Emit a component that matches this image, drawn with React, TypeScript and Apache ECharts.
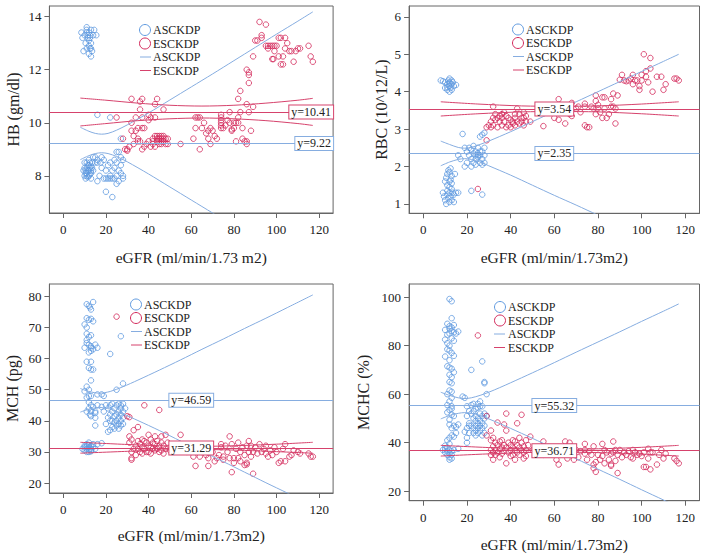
import React, { useEffect, useRef } from "react";
import * as echarts from "echarts";

const FONT = "'Liberation Serif', 'Times New Roman', serif";
const BLUE = "#5f9ae0";
const BLUE_LINE = "#86ade0";
const RED = "#d3285a";
const RED_LINE = "#d6426c";

const xTicks = [0, 20, 40, 60, 80, 100, 120];
const legendNames = ["ASCKDP", "ESCKDP"];
const xNames = ["eGFR (ml/min/1.73 m2)", "eGFR (ml/min/1.73m2)", "eGFR (ml/min/1.73m2)", "eGFR (ml/min/1.73m2)"];
const yNames = ["HB (gm/dl)", "RBC (10^12/L)", "MCH (pg)", "MCHC (%)"];

// ---------- Panel 1: HB ----------
const hbTicks = [8, 10, 12, 14];
const hbMeans = [9.22, 10.41];
const hbAsc = [
  [8.5, 13.4], [10, 13.3], [11, 13.6], [11, 13.5], [12, 13.4], [12.5, 13.3], [13, 13.5], [14, 13.3], [11.5, 13.2], [12, 13.1],
  [10.5, 13.0], [12, 12.9], [13, 13.0], [11, 12.8], [12.5, 12.8], [13.5, 12.7], [9.5, 12.7], [12, 12.6], [13, 12.5], [11.5, 13.3],
  [14.5, 13.5], [15.5, 13.3], [9, 13.2], [12.5, 13.2], [11, 13.4], [13, 12.8],
  [10, 8.3], [10.5, 8.2], [11, 8.1], [11.5, 8.4], [12, 8.0], [12.5, 8.3], [13, 8.2], [13.5, 8.5], [10, 8.0], [11, 8.5],
  [12, 8.6], [10.5, 7.9], [13, 7.9], [11.5, 8.2], [12, 8.4], [10, 8.5], [14, 8.2], [13, 8.1], [11, 8.0], [12.5, 8.5],
  [9.5, 8.2], [14, 8.7], [15, 8.5], [16, 8.6], [16, 7.8], [11, 8.3], [12, 8.2], [13, 8.35], [10.5, 8.1], [12.5, 8.05],
  [11.5, 7.95], [13.5, 8.3],
  [17, 8.0], [18, 8.3], [19, 8.6], [20, 8.2], [20, 7.9], [21, 8.4], [22, 8.0], [22, 8.5], [23, 8.2], [23, 7.9],
  [24, 8.3], [24, 8.6], [25, 8.0], [25, 8.5], [26, 8.2], [26, 7.8], [27, 8.4], [27, 8.1], [28, 8.0], [28, 8.6],
  [19, 7.9], [21, 7.9], [22, 7.9], [24, 7.9], [20, 7.4], [23, 7.2], [25, 7.7], [26, 8.9], [25, 8.9], [27, 8.7],
  [27, 9.4], [28, 7.9], [18, 8.7], [16, 8.5], [15, 8.7], [17.5, 8.5], [16, 10.3], [22, 10.2],
];
const hbEsc = [
  [25, 10.2], [28, 9.4], [29, 9.0], [30, 9.0], [30, 8.95], [31, 9.1], [32, 10.9], [32, 10.0], [32, 9.7], [33, 9.2],
  [33, 9.5], [34, 10.2], [34, 9.7], [35, 9.4], [35, 9.8], [35, 9.3], [36, 10.8], [36, 10.5], [36, 9.3], [37, 10.9],
  [37, 10.2], [37, 9.0], [37, 9.8], [38, 9.8], [38, 9.1], [39, 9.2], [40, 10.3], [40, 10.1], [40, 9.3], [41, 9.1],
  [41, 10.2], [42, 9.2], [42, 9.4], [43, 10.7], [43, 9.5], [43, 9.1], [44, 10.9], [44, 9.3], [44, 9.5], [45, 9.2],
  [45, 9.4], [46, 9.5], [46, 9.3], [46, 9.2], [47, 9.4], [47, 10.5], [47, 9.3], [48, 9.2], [48, 9.4], [49, 9.2],
  [49, 9.4], [43, 10.2], [42, 9.3], [44, 9.4], [45, 9.5], [46, 9.4], [47, 9.5], [45, 9.3],
  [55, 9.2], [61, 9.4], [62, 10.2], [62, 9.8], [63, 10.2], [64, 10.2], [64, 9.0], [65, 9.8], [66, 10.0], [67, 9.6],
  [68, 9.4], [68, 9.7], [69, 9.2], [69, 9.8], [70, 9.7], [71, 9.5], [72, 9.4], [74, 10.3], [74, 10.1], [74, 9.9],
  [74, 10.0], [74, 10.2], [74, 9.8], [75, 9.8], [76, 9.9], [77, 10.1], [78, 10.4], [78, 10.0], [79, 9.7], [79, 9.75],
  [80, 10.0], [80, 9.8], [81, 9.3], [81, 10.0], [82, 10.9], [82, 10.2], [82, 10.0], [83, 11.2], [83, 10.4], [84, 9.4],
  [84, 9.8], [85, 9.3], [86, 9.2], [86, 10.7], [86, 12.0], [86, 9.3], [87, 11.9], [87, 11.8], [87, 11.5], [87, 10.4],
  [88, 9.7], [89, 10.6], [89, 12.5],
  [90, 13.1], [91, 13.1], [92, 13.8], [93, 13.3], [93, 13.2], [95, 13.7], [95, 12.9], [96, 12.8], [97, 12.9], [98, 12.4],
  [98.5, 12.4], [98, 12.9], [99, 12.7], [99, 12.9], [100, 12.9], [101, 13.2], [101, 12.5], [102, 13.2], [102, 12.2], [103, 12.2],
  [104, 13.2], [104, 12.8], [105, 13.0], [106, 12.7], [107, 12.7], [108, 12.3], [109, 12.7], [110, 12.8], [111, 12.8], [115, 12.9],
  [116, 12.5], [117, 12.3], [103, 12.5], [96, 12.9],
];
const hbAscUpper = [[8, 9.83], [12, 9.68], [15, 9.6], [18, 9.57], [21, 9.6], [25, 9.72], [30, 9.92], [40, 10.37], [50, 10.86], [60, 11.35], [70, 11.84], [80, 12.34], [90, 12.84], [100, 13.34], [110, 13.83], [117, 14.18]];
const hbAscLower = [[8, 8.61], [12, 8.76], [15, 8.84], [18, 8.87], [21, 8.84], [25, 8.73], [30, 8.53], [40, 8.07], [50, 7.58], [60, 7.09], [70, 6.6], [80, 6.1]];
const hbEscUpper = [[8, 10.93], [20, 10.85], [35, 10.74], [50, 10.66], [65, 10.63], [80, 10.66], [95, 10.74], [110, 10.85], [117, 10.92]];
const hbEscLower = [[8, 9.88], [20, 9.97], [35, 10.08], [50, 10.15], [65, 10.18], [80, 10.15], [95, 10.08], [110, 9.97], [117, 9.9]];

// ---------- Panel 2: RBC ----------
const rbcTicks = [1, 2, 3, 4, 5, 6];
const rbcMeans = [2.35, 3.54];
const rbcAsc = [
  [8, 4.3], [9, 4.28], [10, 4.1], [10, 4.25], [11, 4.2], [11, 4.05], [11.5, 4.3], [12, 4.15], [12, 4.25], [12, 4.35],
  [12.5, 4.1], [13, 4.2], [13, 4.3], [13, 4.05], [11, 4.12], [12, 4.0], [13.5, 4.25], [15, 4.18], [14, 4.15], [12, 4.22],
  [9, 1.3], [9.5, 1.2], [10, 1.1], [10, 1.6], [10.5, 1.7], [11, 1.25], [11, 1.5], [11, 1.8], [11.5, 1.15], [11.5, 1.9],
  [12, 1.05], [12, 1.3], [12, 1.6], [12, 1.85], [12.5, 1.2], [12.5, 1.95], [13, 1.4], [13, 1.1], [13, 1.75], [13.5, 1.3],
  [14, 1.05], [14, 1.25], [14.5, 1.8], [15, 1.3], [16, 1.3], [10.5, 1.0], [11, 1.35], [12, 1.45], [13, 1.55], [12.5, 1.65],
  [16, 2.3], [17, 2.2], [18, 2.87], [19, 2.5], [19, 2.0], [20, 2.4], [20, 2.1], [21, 2.3], [21, 2.5], [22, 2.2],
  [22, 2.0], [22, 2.45], [23, 2.35], [23, 2.1], [23, 2.55], [24, 2.4], [24, 2.2], [24, 2.05], [25, 2.35], [25, 2.25],
  [25, 2.5], [26, 2.3], [26, 2.1], [26, 2.8], [27, 2.4], [27, 2.2], [27, 2.05], [27, 2.85], [28, 2.3], [28, 2.5],
  [28, 2.1], [28, 2.9], [24, 2.3], [25, 2.3], [26, 2.4], [22, 1.35], [27, 1.25],
];
const rbcEsc = [
  [25, 1.4], [29, 2.7], [29, 3.05], [30, 3.1], [31, 3.2], [31, 3.05], [32, 3.6], [32, 3.3], [32, 3.1], [33, 3.4],
  [33, 3.25], [34, 3.3], [34, 3.05], [35, 3.35], [35, 3.2], [36, 3.4], [36, 3.3], [36, 3.1], [37, 3.45], [37, 3.2],
  [38, 3.35], [38, 3.05], [39, 3.3], [39, 3.1], [40, 3.25], [40, 3.05], [41, 3.2], [41, 3.15], [42, 3.4], [42, 3.3],
  [42, 3.1], [43, 3.55], [43, 3.2], [44, 3.4], [44, 3.15], [45, 3.3], [45, 3.2], [46, 3.45], [46, 3.3], [46, 3.1],
  [47, 3.35], [47, 3.2], [49, 3.2], [55, 3.08], [60, 3.3], [62, 3.8], [62, 3.25], [63, 3.6], [65, 3.15], [66, 3.6],
  [67, 3.4], [68, 3.7], [68, 3.35], [70, 3.55], [71, 3.6], [72, 3.45], [74, 3.68], [74, 3.6], [74, 3.1], [75, 3.05],
  [76, 3.05], [77, 3.6], [78, 3.55], [79, 3.9], [79, 3.75], [79, 3.4], [80, 3.55], [80, 3.65], [81, 3.45], [82, 3.85],
  [82, 3.3], [83, 3.85], [83, 3.55], [84, 3.3], [85, 3.4], [86, 3.6], [86, 3.8], [87, 3.6], [87, 3.95], [88, 3.15],
  [88, 3.55], [89, 3.9], [90, 4.32], [91, 4.45], [93, 4.28], [94, 4.3], [96, 4.45], [96, 4.2], [97, 4.3], [98, 4.3],
  [99, 4.15], [99, 4.05], [100, 4.45], [100, 4.3], [101, 5.0], [102, 4.55], [102, 4.4], [103, 4.25], [104, 4.9], [104, 4.62],
  [105, 4.0], [107, 4.4], [109, 4.4], [110, 4.05], [111, 4.2], [115, 4.35], [116, 4.35], [117, 4.3], [95, 4.35], [92, 4.3],
];
const rbcAscUpper = [[8, 2.68], [12, 2.59], [16, 2.51], [19, 2.49], [22, 2.51], [26, 2.59], [30, 2.68], [40, 2.93], [50, 3.2], [60, 3.47], [70, 3.73], [80, 4.0], [90, 4.27], [100, 4.54], [110, 4.81], [117, 5.0]];
const rbcAscLower = [[8, 2.02], [12, 2.12], [16, 2.19], [19, 2.21], [22, 2.19], [26, 2.12], [30, 2.02], [40, 1.77], [50, 1.5], [60, 1.23], [70, 0.97], [80, 0.7], [90, 0.43]];
const rbcEscUpper = [[8, 3.73], [25, 3.67], [45, 3.62], [62, 3.61], [80, 3.62], [100, 3.67], [117, 3.73]];
const rbcEscLower = [[8, 3.35], [25, 3.41], [45, 3.46], [62, 3.47], [80, 3.46], [100, 3.41], [117, 3.35]];

// ---------- Panel 3: MCH ----------
const mchTicks = [20, 30, 40, 50, 60, 70, 80];
const mchMeans = [46.59, 31.29];
const mchAsc = [
  [11, 77.5], [12, 77], [12.5, 76.5], [13, 75.8], [14, 78.2], [11, 73], [12, 72.5], [13, 72.8], [14, 72], [10, 71],
  [11, 70], [11, 68], [12, 67], [13, 67.5], [11, 66], [12, 64.5], [13, 64], [10, 63.5], [11, 65], [12, 62],
  [13, 63.5], [14, 63], [15, 64.5], [16, 63.5], [13, 62.5], [11, 59], [13, 59], [12, 57], [13, 56.5], [14, 56.5],
  [13, 53], [11, 51], [12, 50], [10, 49.5], [11, 47.5], [12, 48], [13, 48], [12, 46], [13, 45], [12, 44],
  [12.5, 42], [11, 43], [13, 41.5], [15, 42.5], [15, 38.5], [15, 41], [15, 43], [14, 44.5], [16, 45], [16, 48.5],
  [18, 48.5], [19, 48], [22, 61.5], [25, 50], [27, 67.2], [28, 52], [13, 43],
  [9, 31], [10, 30.5], [10, 32], [11, 31], [11, 32.5], [11, 30], [12, 31.5], [12, 30], [12, 33], [13, 31],
  [13, 32], [13, 30.5], [14, 31.5], [14, 32.5], [15, 31], [16, 32.5], [18, 32.8], [12, 32.2], [10, 31.5], [11, 31.8],
  [12, 30.8], [13, 30.2],
  [18, 44.5], [19, 43], [20, 45], [20, 39], [21, 41], [21, 36.5], [21, 44], [22, 42], [22, 37], [22, 45],
  [23, 40], [23, 38], [23, 43], [24, 39.5], [24, 41.5], [24, 44], [24, 37.5], [25, 40], [25, 42], [25, 38.5],
  [25, 45], [26, 39], [26, 41], [26, 43], [26, 37.5], [27, 40], [27, 42], [27, 44], [27, 38.5], [28, 41],
  [28, 43], [28, 45.5], [29, 44], [28, 39], [22, 40], [23, 45.5], [26, 45.5], [27, 45],
];
const mchEsc = [
  [25, 73.5], [30, 41.5], [31, 41.2], [38, 45], [45, 43.5], [31, 35], [31, 33], [32, 34], [32, 30], [32, 28],
  [32, 27.5], [33, 37], [33, 31], [34, 32], [34, 29], [35, 38], [35, 33.5], [35, 31], [36, 30], [36, 32.5],
  [37, 34], [37, 31.5], [37, 29.5], [38, 33.5], [38, 31], [39, 33], [39, 30], [40, 35.5], [40, 32], [40, 30],
  [41, 34], [41, 31.5], [41, 29.5], [42, 33], [42, 31], [43, 35], [43, 32.5], [43, 30.5], [44, 33.5], [44, 31],
  [45, 32], [45, 30], [46, 35], [46, 33], [46, 30.5], [47, 32], [47, 29.5], [48, 35.5], [48, 31], [49, 33],
  [50, 30.5], [52, 31.5], [55, 35.5], [55, 32.5], [58, 30], [60, 31], [61, 28.5], [62, 25.5], [63, 30], [64, 28.5],
  [65, 31], [66, 30.5], [67, 29], [68, 25.5], [68, 28], [69, 32], [70, 30], [71, 27], [72, 28], [73, 29],
  [74, 32.5], [74, 31.5], [75, 28.5], [75, 27.5], [76, 32], [77, 30], [78, 35], [78, 28], [79, 23.5], [79, 32.5],
  [80, 28], [80, 26.5], [81, 31], [82, 33], [82, 28], [83, 30], [83, 27], [84, 31.5], [85, 29], [86, 26],
  [86, 32], [87, 33.5], [87, 30], [88, 28.5], [88, 32], [89, 23], [89, 30], [90, 31.5], [91, 29.5], [92, 32.5],
  [93, 30], [94, 31], [95, 32], [95, 29.5], [96, 28.5], [97, 30.5], [98, 29], [99, 31.5], [100, 30], [101, 26.5],
  [102, 27], [103, 31], [104, 32.5], [104, 27], [106, 28.5], [107, 29], [108, 30.5], [110, 30], [111, 29.5], [115, 29.5],
  [116, 28.5], [117, 28.5], [86, 26.5], [85, 25.8],
];
const mchAscUpper = [[8, 50.4], [12, 49.45], [17, 48.9], [22, 49.45], [28, 50.97], [35, 53.1], [45, 56.3], [55, 59.6], [65, 63.0], [75, 66.3], [85, 69.7], [95, 73.0], [105, 76.4], [117, 80.5]];
const mchAscLower = [[8, 42.8], [12, 43.75], [17, 44.3], [22, 43.75], [28, 42.2], [35, 40.1], [45, 36.9], [55, 33.5], [65, 30.2], [75, 26.9], [85, 23.5], [95, 20.1], [105, 16.8], [117, 12.7]];
const mchEscUpper = [[8, 33.1], [30, 32.4], [50, 31.9], [65, 31.8], [85, 32.1], [100, 32.5], [117, 33.1]];
const mchEscLower = [[8, 29.6], [30, 30.2], [50, 30.7], [65, 30.8], [85, 30.5], [100, 30.1], [117, 29.6]];

// ---------- Panel 4: MCHC ----------
const mchcTicks = [20, 40, 60, 80, 100];
const mchcMeans = [55.32, 36.71];
const mchcAsc = [
  [12, 99.2], [13, 98.3], [13, 91.3], [11, 89], [12, 88], [13, 87.5], [14, 88.5], [12, 87], [10, 86.5], [11, 84.5],
  [12, 85], [13, 86], [14, 85.5], [15, 85], [16, 85.8], [10, 82.5], [11, 81], [12, 80], [13, 83], [14, 82],
  [11, 78.5], [12, 78], [13, 77], [14, 75.8], [10, 75.5], [12, 74], [11, 71.5], [12, 71], [13, 70.5], [14, 69],
  [12, 68], [13, 67], [12, 65], [13, 64.5], [12, 61.5], [13, 61], [11, 60], [13, 58.5], [12, 57], [11, 55.5],
  [13, 55], [13, 54], [12, 53.5], [11, 52.5], [13, 51.5], [14, 51], [12, 49.5], [12, 47.5], [13, 46], [14, 47],
  [15, 46.5], [16, 47.5], [15, 44], [13, 43], [12, 42], [14, 42.5], [11, 41], [12, 39.5], [11, 38], [10, 37.5],
  [12, 37], [13, 36.5], [9, 37], [10, 36], [11, 36.5], [12, 35.5], [13, 35], [12, 34], [13, 33.5], [12, 33],
  [11, 35], [14, 37], [10, 38.8], [16, 37.5],
  [18, 59], [19, 58.5], [20, 55], [20, 51], [20, 42], [20, 40], [21, 48], [21, 47], [21, 53], [22, 70],
  [22, 55.5], [22, 52], [22, 47], [23, 56], [23, 53], [23, 50], [23, 46], [23, 44], [24, 54], [24, 51],
  [24, 49], [24, 47], [24, 45], [24, 43], [25, 56], [25, 54.5], [25, 50], [25, 48], [25, 46], [25, 44],
  [26, 57], [26, 55], [26, 52], [26, 49], [26, 47], [26, 45], [27, 73.5], [27, 55], [27, 51], [27, 48],
  [27, 46], [27, 43], [28, 65], [28, 64.5], [28, 52], [28, 50], [28, 47], [28, 44], [29, 60], [29, 51],
  [19, 44.5], [20, 46], [21, 44],
];
const mchcEsc = [
  [25, 84.2], [29, 51], [29, 43], [31, 45], [31, 41], [31, 37], [31, 35], [32, 42], [32, 38.5], [32, 36],
  [32, 33], [33, 40], [33, 37], [33, 35], [34, 48.3], [34, 39], [34, 36], [35, 40.5], [35, 37.5], [35, 34],
  [36, 41], [36, 38], [36, 35.5], [37, 47.5], [37, 39], [37, 36.5], [38, 52], [38, 45], [38, 31.5], [38, 38],
  [39, 40], [39, 36], [40, 39], [40, 37], [40, 34.5], [41, 41], [41, 38], [41, 35], [42, 40.5], [42, 37],
  [42, 33], [43, 48], [43, 39], [43, 36], [44, 42], [44, 38], [44, 35], [45, 51.5], [45, 40], [45, 37],
  [46, 38.5], [46, 36], [46, 33.5], [47, 41], [47, 37], [47, 34.5], [48, 39], [49, 42.5], [50, 37], [52, 38],
  [55, 40.5], [55, 35], [58, 38], [60, 36], [61, 33], [62, 31], [63, 35], [64, 37.5], [65, 40.5], [66, 33.5],
  [67, 40], [68, 35], [69, 33], [70, 37], [71, 34], [72, 36.5], [74, 39.5], [74, 37], [74, 35.5], [75, 33],
  [76, 36.5], [77, 35], [78, 38.5], [78, 31], [78, 29.5], [79, 28], [79, 32], [80, 35], [81, 33], [82, 39.5],
  [82, 34.5], [83, 37], [83, 31.5], [84, 36], [85, 33], [86, 31], [86, 30.5], [86, 35.5], [87, 40.5], [87, 36],
  [88, 37], [88, 32.5], [89, 27.5], [89, 35], [90, 37], [91, 34], [92, 36], [93, 35], [94, 36.5], [95, 34],
  [96, 33.5], [97, 36], [98, 35], [99, 35.5], [100, 34.5], [101, 30], [101, 36], [102, 30], [103, 33.5], [104, 29],
  [104, 36], [105, 36], [107, 31], [108, 35], [109, 37], [110, 33.5], [111, 35.5], [115, 33.5], [116, 32.5], [117, 31.5],
  [103, 37.5], [96, 37],
];
const mchcAscUpper = [[8, 60.8], [12, 59.5], [16, 58.5], [19, 58.2], [22, 58.5], [26, 59.5], [30, 60.8], [35, 62.7], [40, 64.7], [50, 68.8], [60, 73.0], [70, 77.3], [80, 81.5], [90, 85.7], [100, 90.0], [110, 94.2], [117, 97.2]];
const mchcAscLower = [[8, 49.8], [12, 51.2], [16, 52.1], [19, 52.4], [22, 52.1], [26, 51.2], [30, 49.8], [35, 47.9], [40, 45.9], [50, 41.8], [60, 37.6], [70, 33.4], [80, 29.1], [90, 24.9], [100, 20.6], [110, 16.4], [117, 13.4]];
const mchcEscUpper = [[8, 38.9], [30, 38.0], [50, 37.4], [65, 37.3], [85, 37.6], [100, 38.1], [117, 38.9]];
const mchcEscLower = [[8, 34.5], [30, 35.4], [50, 36.0], [65, 36.1], [85, 35.8], [100, 35.3], [117, 34.5]];

// ---------- layout ----------
const panels = [
  {
    ticks: hbTicks, yMin: 6.6, yMax: 14.4, asc: hbAsc, esc: hbEsc, means: hbMeans,
    ascUp: hbAscUpper, ascLo: hbAscLower, escUp: hbEscUpper, escLo: hbEscLower,
    grid: { left: 49.4, top: 6, width: 283.7, height: 207 }, labelPos: "insideEnd",
    xGap: 36, yGap: 28, legend: { cx: 145, tx: 153, lx1: 140, lx2: 151, rows: [30, 43.5, 57, 70.5] },
  },
  {
    ticks: rbcTicks, yMin: 0.75, yMax: 6.29, asc: rbcAsc, esc: rbcEsc, means: rbcMeans,
    ascUp: rbcAscUpper, ascLo: rbcAscLower, escUp: rbcEscUpper, escLo: rbcEscLower,
    grid: { left: 409.1, top: 6, width: 290.4, height: 207.3 }, labelPos: "insideMiddle",
    xGap: 36, yGap: 20, legend: { cx: 518, tx: 526, lx1: 513, lx2: 524, rows: [29.5, 43, 56.5, 70] },
  },
  {
    ticks: mchTicks, yMin: 16.8, yMax: 84, asc: mchAsc, esc: mchEsc, means: mchMeans,
    ascUp: mchAscUpper, ascLo: mchAscLower, escUp: mchEscUpper, escLo: mchEscLower,
    grid: { left: 49.4, top: 284, width: 283.7, height: 209 }, labelPos: "insideMiddle",
    xGap: 34, yGap: 29, legend: { cx: 136, tx: 144, lx1: 131, lx2: 142, rows: [304.5, 318, 331.5, 345] },
  },
  {
    ticks: mchcTicks, yMin: 16.1, yMax: 105.4, asc: mchcAsc, esc: mchcEsc, means: mchcMeans,
    ascUp: mchcAscUpper, ascLo: mchcAscLower, escUp: mchcEscUpper, escLo: mchcEscLower,
    grid: { left: 409.1, top: 284, width: 290.4, height: 216.7 }, labelPos: "insideMiddle",
    xGap: 36, yGap: 38, legend: { cx: 500, tx: 508, lx1: 494, lx2: 505, rows: [307, 320.5, 334, 347.5] },
  },
];

const textStyle = { fontFamily: FONT, color: "#222" };

function meanLine(value: number, color: string, pos: string) {
  return {
    silent: true,
    symbol: ["none", "none"],
    animation: false,
    lineStyle: { color, width: 1.2, type: "solid" },
    emphasis: { disabled: true },
    label: {
      show: true,
      position: pos,
      distance: 0,
      formatter: "y=" + value.toFixed(2),
      ...textStyle,
      fontSize: 12,
      backgroundColor: "#fff",
      borderColor: color,
      borderWidth: 1,
      padding: [1, 2, 0, 2],
    },
    data: [{ yAxis: value }],
  };
}

function buildOption() {
  const grid: any[] = [];
  const xAxis: any[] = [];
  const yAxis: any[] = [];
  const series: any[] = [];
  const graphic: any[] = [];

  panels.forEach((p, i) => {
    grid.push({ ...p.grid, show: true, borderColor: "#666", borderWidth: 1, backgroundColor: "transparent" });
    xAxis.push({
      type: "value", gridIndex: i, min: -6.5, max: 126.5,
      name: xNames[i], nameLocation: "middle", nameGap: p.xGap,
      nameTextStyle: { ...textStyle, fontSize: 15.5 },
      axisLine: { show: true, onZero: false, lineStyle: { color: "#666" } },
      axisTick: { show: true, inside: false, length: 5, customValues: xTicks, lineStyle: { color: "#666" } },
      axisLabel: { customValues: xTicks, margin: 10, ...textStyle, fontSize: 13 },
      splitLine: { show: false },
    });
    yAxis.push({
      type: "value", gridIndex: i, min: p.yMin, max: p.yMax,
      name: yNames[i], nameLocation: "middle", nameGap: p.yGap,
      nameTextStyle: { ...textStyle, fontSize: 16 },
      axisLine: { show: true, onZero: false, lineStyle: { color: "#666" } },
      axisTick: { show: true, inside: false, length: 5, customValues: p.ticks, lineStyle: { color: "#666" } },
      axisLabel: { customValues: p.ticks, margin: 8, ...textStyle, fontSize: 13 },
      splitLine: { show: false },
    });

    const common = { xAxisIndex: i, yAxisIndex: i, silent: true };
    series.push({
      ...common, type: "scatter", name: legendNames[0], data: p.asc, symbol: "circle", symbolSize: 5.5,
      itemStyle: { color: "rgba(0,0,0,0)", borderColor: BLUE, borderWidth: 1 },
    });
    series.push({
      ...common, type: "scatter", name: legendNames[1], data: p.esc, symbol: "circle", symbolSize: 5.5,
      itemStyle: { color: "rgba(0,0,0,0)", borderColor: RED, borderWidth: 1 },
    });
    const lineS = (data: number[][], color: string, ml?: any) => ({
      ...common, type: "line", data, showSymbol: false, symbol: "none", smooth: 0.3,
      clip: true, lineStyle: { color, width: 1 }, markLine: ml,
    });
    series.push(lineS(p.ascUp, BLUE_LINE, meanLine(p.means[0], BLUE_LINE, p.labelPos)));
    series.push(lineS(p.ascLo, BLUE_LINE));
    series.push(lineS(p.escUp, RED_LINE, meanLine(p.means[1], RED_LINE, p.labelPos)));
    series.push(lineS(p.escLo, RED_LINE));

    const L = p.legend;
    const colors = [BLUE, RED, BLUE_LINE, RED_LINE];
    L.rows.forEach((ry, k) => {
      if (k < 2) {
        graphic.push({ type: "circle", shape: { cx: L.cx, cy: ry, r: 5.5 }, style: { fill: "none", stroke: colors[k], lineWidth: 1 }, silent: true });
      } else {
        graphic.push({ type: "line", shape: { x1: L.lx1, y1: ry, x2: L.lx2, y2: ry }, style: { stroke: colors[k], lineWidth: 1 }, silent: true });
      }
      graphic.push({
        type: "text", x: L.tx, y: ry, silent: true,
        style: { text: legendNames[k % 2], fontFamily: FONT, fontSize: 12, lineHeight: 13, fill: "#222", verticalAlign: "middle", align: "left" },
      });
    });
  });

  return { animation: false, backgroundColor: "#fff", grid, xAxis, yAxis, series, graphic };
}

export default function App() {
  const ref = useRef<HTMLDivElement>(null);
  useEffect(() => {
    if (!ref.current) return;
    const chart = echarts.init(ref.current, null, { renderer: "svg" });
    chart.setOption(buildOption() as any);
    return () => chart.dispose();
  }, []);
  return <div ref={ref} style={{ position: "fixed", left: 0, top: 0, width: 708, height: 557, background: "#fff" }} />;
}
